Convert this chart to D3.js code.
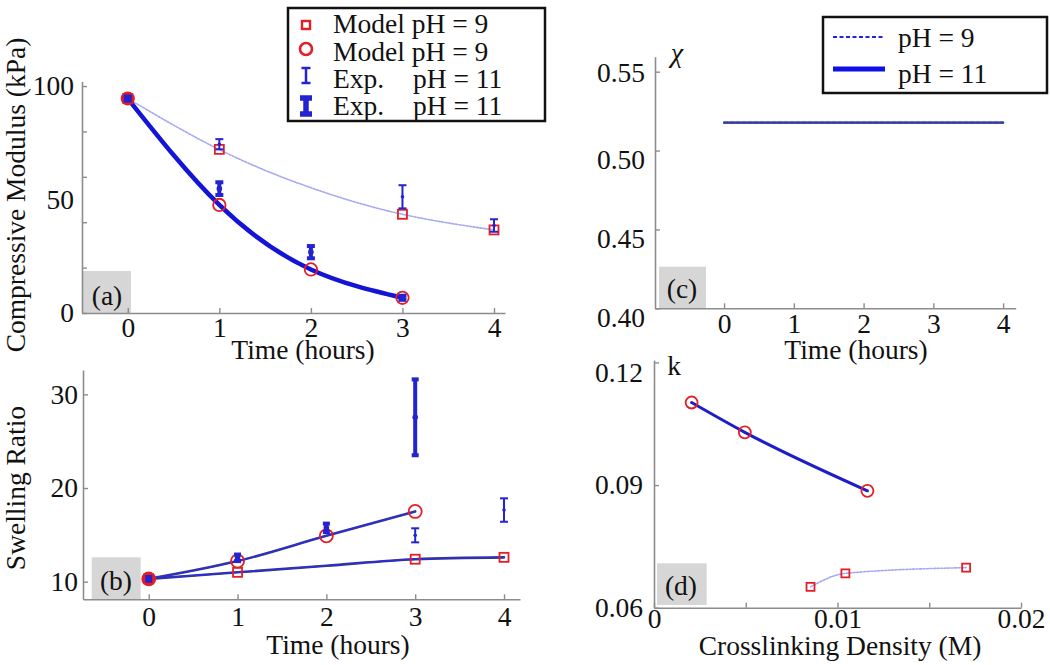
<!DOCTYPE html>
<html><head><meta charset="utf-8">
<script src="https://cdn.jsdelivr.net/npm/d3@7"></script>
<style>
body{margin:0;background:#fff}
svg{display:block}
</style></head><body>
<svg id="chart" width="1050" height="665"></svg>
<script>
// ---------------- DATA ----------------
// (a) Compressive modulus (kPa) vs time (hours)
const aCurveHours9 = [0, 1, 2, 3, 4];
const aCurve9 = [94.5, 72.0, 55.2, 43.5, 36.6];
const aCurveHours11 = [0, 1, 2, 3];
const aCurve11 = [94.5, 47.6, 19.2, 6.7];
const aModelHours9 = [0, 1, 3, 4];
const aModel9 = [94.5, 72.1, 43.5, 36.6];
const aModelHours11 = [0, 1, 2, 3];
const aModel11 = [94.5, 47.6, 19.2, 6.7];
const aExpThinHours = [0, 1, 3, 4];
const aExpThinLo = [93.6, 72.1, 46.1, 35.8];
const aExpThinHi = [95.4, 76.6, 56.3, 41.3];
const aExpThickHours = [0, 1, 2, 3];
const aExpThickLo = [93.6, 52.0, 24.1, 5.8];
const aExpThickHi = [95.4, 57.6, 29.5, 7.6];

// (b) Swelling ratio vs time (hours)
const bCurveHours9 = [0, 1, 2, 3, 4];
const bCurve9 = [10.3, 11.0, 11.7, 12.4, 12.6];
const bCurveHours11 = [0, 1, 2, 3];
const bCurve11 = [10.3, 12.2, 14.9, 17.5];
const bModelHours9 = [0, 1, 3, 4];
const bModel9 = [10.3, 11.0, 12.4, 12.6];
const bModelHours11 = [0, 1, 2, 3];
const bModel11 = [10.3, 12.2, 14.9, 17.5];
const bExpThinHours = [3, 4];
const bExpThinLo = [14.2, 16.4];
const bExpThinHi = [15.7, 18.9];
const bExpThickHours = [0, 1, 2, 3];
const bExpThickLo = [10.1, 12.2, 15.3, 23.5];
const bExpThickHi = [10.5, 12.9, 16.2, 31.6];

// (c) chi vs time (hours)
const cHours = [0, 4];
const cChi9 = [0.5177, 0.5177];
const cChi11 = [0.5177, 0.5177];

// (d) k vs crosslinking density (M)
const dDensity11 = [0.00205, 0.00495, 0.01163];
const dK11 = [0.1102, 0.1029, 0.0886];
const dDensity9 = [0.00853, 0.01043, 0.01701];
const dK9 = [0.0651, 0.0684, 0.0698];

// tick labels
const hourTicks = [0, 1, 2, 3, 4];
const aYTicks = [0, 20, 40, 60, 80, 100];
const aYLabels = [0, 50, 100];
const bYTicks = [10, 20, 30];
const cYTicks = [0.40, 0.45, 0.50, 0.55];
const dYTicks = [0.06, 0.09, 0.12];
const dXTicks = [0, 0.005, 0.01, 0.015, 0.02];
const dXLabels = {"0": "0", "0.01": "0.01", "0.02": "0.02"};

const legend1Labels = ["Model pH = 9", "Model pH = 9", "Exp.", "Exp."];
const legend1Right = ["", "", "pH = 11", "pH = 11"];
const legend2Labels = ["pH = 9", "pH = 11"];

// ---------------- FONT ----------------
function pickFont(cands) {
  const c = document.createElement("canvas").getContext("2d");
  const s = "Compressive Modulus (kPa) 0123456789";
  c.font = "40px monospace"; const wm = c.measureText(s).width;
  c.font = "40px sans-serif"; const ws = c.measureText(s).width;
  for (const f of cands) {
    c.font = `40px "${f}", monospace`; const w1 = c.measureText(s).width;
    c.font = `40px "${f}", sans-serif`; const w2 = c.measureText(s).width;
    if (w1 !== wm && w2 !== ws) return `"${f}"`;
  }
  return "serif";
}
const FONT = pickFont(["Liberation Serif", "Times New Roman", "Tinos", "Times", "Nimbus Roman", "DejaVu Serif", "Noto Serif"]);

// ---------------- STYLE ----------------
const RED = "#e41e26";
const BLUE_THICK = "#1414d6";
const BLUE_LIGHT = "#a3a9f2";
const BLUE_BAR = "#2323cf";
const AXIS = "#8c8c8c";
const FS = 27.5;

const svg = d3.select("#chart");

function txt(sel) { return sel.append("text").attr("font-family", FONT).attr("fill", "#111").attr("font-size", FS); }
function zip(xs, ys) { return xs.map((x, i) => ({x, y: ys[i]})); }

function panel(cfg) {
  const x = d3.scaleLinear().domain(cfg.xDomain).range(cfg.xRange);
  const y = d3.scaleLinear().domain(cfg.yDomain).range(cfg.yRange);
  const g = svg.append("g");

  g.append("rect").attr("x", cfg.tag.x).attr("y", cfg.tag.y)
    .attr("width", cfg.tag.w).attr("height", cfg.tag.h).attr("fill", "#d6d6d6");
  txt(g).attr("x", cfg.tag.tx).attr("y", cfg.tag.ty).attr("text-anchor", "middle").text(cfg.tag.label);

  const xa = g.append("g").attr("transform", `translate(0,${cfg.yRange[0]})`)
    .call(d3.axisBottom(x).tickValues(cfg.xTicks).tickSizeInner(-5).tickSizeOuter(0)
      .tickPadding(cfg.xPad).tickFormat(cfg.xFmt));
  const ya = g.append("g").attr("transform", `translate(${cfg.xRange[0]},0)`)
    .call(d3.axisLeft(y).tickValues(cfg.yTicks).tickSizeInner(-5).tickSizeOuter(0)
      .tickPadding(cfg.yPad).tickFormat(cfg.yLabelSep ? () => "" : cfg.yFmt));
  let yl = ya;
  if (cfg.yLabelSep) {
    yl = g.append("g").attr("transform", `translate(${cfg.xRange[0]},0)`)
      .call(d3.axisLeft(y).tickValues(cfg.yLabelSep).tickSize(0).tickPadding(cfg.yPad).tickFormat(cfg.yFmt));
    yl.select(".domain").remove();
  }
  [xa, ya].forEach(a => {
    a.select(".domain").attr("stroke", AXIS).attr("stroke-width", 1.6);
    a.selectAll(".tick line").attr("stroke", AXIS).attr("stroke-width", 1.4);
  });
  g.selectAll("g").attr("font-family", FONT).attr("font-size", FS);
  g.selectAll(".tick text").attr("fill", "#111");
  if (cfg.yShift) yl.selectAll(".tick text").attr("transform", d => `translate(0,${cfg.yShift(d)})`);

  txt(g).attr("x", cfg.xTitle.x).attr("y", cfg.xTitle.y).attr("text-anchor", "middle").text(cfg.xTitle.text);
  if (cfg.yTitle) {
    txt(g).attr("transform", `translate(${cfg.yTitle.x},${cfg.yTitle.y}) rotate(-90)`)
      .attr("text-anchor", "middle").text(cfg.yTitle.text);
  }
  return {g, x, y};
}

function drawLine(p, pts, style, curve) {
  p.g.append("path").datum(pts)
    .attr("d", d3.line().x(d => p.x(d.x)).y(d => p.y(d.y)).curve(curve || d3.curveNatural))
    .attr("fill", "none").attr("stroke", style.stroke).attr("stroke-width", style.width)
    .attr("stroke-dasharray", style.dash || null).attr("stroke-linecap", "round");
}
function drawSquares(p, pts, size) {
  p.g.selectAll(null).data(pts).enter().append("rect")
    .attr("x", d => p.x(d.x) - size / 2).attr("y", d => p.y(d.y) - size / 2)
    .attr("width", size).attr("height", size)
    .attr("fill", "none").attr("stroke", RED).attr("stroke-width", 1.8);
}
function drawCircles(p, pts, r) {
  p.g.selectAll(null).data(pts).enter().append("circle")
    .attr("cx", d => p.x(d.x)).attr("cy", d => p.y(d.y)).attr("r", r)
    .attr("fill", d => d.x === 0 ? RED : "none").attr("stroke", RED).attr("stroke-width", 1.8);
}
function drawBars(p, xs, lo, hi, w, cap) {
  const data = xs.map((x, i) => ({x, lo: lo[i], hi: hi[i]}));
  const sel = p.g.selectAll(null).data(data).enter().append("g");
  sel.append("line").attr("x1", d => p.x(d.x)).attr("x2", d => p.x(d.x))
    .attr("y1", d => p.y(d.lo)).attr("y2", d => p.y(d.hi))
    .attr("stroke", BLUE_BAR).attr("stroke-width", w);
  ["lo", "hi"].forEach(k => {
    sel.append("line").attr("x1", d => p.x(d.x) - cap / 2).attr("x2", d => p.x(d.x) + cap / 2)
      .attr("y1", d => p.y(d[k])).attr("y2", d => p.y(d[k]))
      .attr("stroke", BLUE_BAR).attr("stroke-width", w);
  });
  sel.append("circle").attr("cx", d => p.x(d.x)).attr("cy", d => p.y((d.lo + d.hi) / 2))
    .attr("r", w / 2 + 0.8).attr("fill", BLUE_BAR);
}

// ---------------- PANEL (a) ----------------
const A = panel({
  xDomain: [-0.5, 4.12], xRange: [82, 505], yDomain: [0, 102], yRange: [313, 81.5],
  xTicks: hourTicks, xFmt: d3.format("d"), xPad: 4,
  yTicks: aYTicks, yLabelSep: aYLabels, yFmt: d3.format("d"), yPad: 8,
  xTitle: {x: 303, y: 359, text: "Time (hours)"},
  yTitle: {x: 25, y: 195, text: "Compressive Modulus (kPa)"},
  tag: {x: 83, y: 271, w: 48, h: 42, tx: 107, ty: 305, label: "(a)"}
});
drawLine(A, zip(aCurveHours9, aCurve9), {stroke: BLUE_LIGHT, width: 1.6, dash: "2,1.5"});
drawLine(A, zip(aCurveHours11, aCurve11), {stroke: BLUE_THICK, width: 4.5});
drawSquares(A, zip(aModelHours9, aModel9), 9);
drawCircles(A, zip(aModelHours11, aModel11), 6.2);
drawBars(A, aExpThinHours, aExpThinLo, aExpThinHi, 2, 8);
drawBars(A, aExpThickHours, aExpThickLo, aExpThickHi, 4, 8);

// ---------------- PANEL (b) ----------------
const B = panel({
  xDomain: [-0.74, 4.18], xRange: [83, 520], yDomain: [8.12, 32.6], yRange: [599.3, 370],
  xTicks: hourTicks, xFmt: d3.format("d"), xPad: 7,
  yTicks: bYTicks, yFmt: d3.format("d"), yPad: 5,
  xTitle: {x: 338, y: 654, text: "Time (hours)"},
  yTitle: {x: 25, y: 488, text: "Swelling Ratio"},
  tag: {x: 91.7, y: 557.3, w: 49, h: 42, tx: 116, ty: 590, label: "(b)"}
});
drawLine(B, zip(bCurveHours9, bCurve9), {stroke: "#3a3a6a", width: 2.6}, d3.curveMonotoneX);
drawLine(B, zip(bCurveHours9, bCurve9), {stroke: "#2a2af0", width: 1.4}, d3.curveMonotoneX);
drawLine(B, zip(bCurveHours11, bCurve11), {stroke: "#3a3a6a", width: 2.6}, d3.curveMonotoneX);
drawLine(B, zip(bCurveHours11, bCurve11), {stroke: "#2a2af0", width: 1.4}, d3.curveMonotoneX);
drawSquares(B, zip(bModelHours9, bModel9), 9);
drawCircles(B, zip(bModelHours11, bModel11), 6.5);
drawBars(B, bExpThinHours, bExpThinLo, bExpThinHi, 2, 8);
drawBars(B, bExpThickHours, bExpThickLo, bExpThickHi, 4, 7);

// ---------------- PANEL (c) ----------------
const C = panel({
  xDomain: [-0.99, 4.18], xRange: [655, 1015.7], yDomain: [0.40, 0.5595], yRange: [308.3, 56.7],
  xTicks: hourTicks, xFmt: d3.format("d"), xPad: 5,
  yTicks: cYTicks, yFmt: d3.format(".2f"), yPad: 10,
  yShift: d => d > 0.54 ? 1.5 : 9,
  xTitle: {x: 856, y: 359, text: "Time (hours)"},
  tag: {x: 659, y: 266.7, w: 47, h: 41.6, tx: 682, ty: 298, label: "(c)"}
});
drawLine(C, zip(cHours, cChi11), {stroke: "#3c3ca2", width: 2.2}, d3.curveLinear);
drawLine(C, zip(cHours, cChi9), {stroke: "#3c3ca2", width: 2.2, dash: "4,2"}, d3.curveLinear);
txt(C.g).attr("x", 677).attr("y", 62).attr("text-anchor", "middle")
  .attr("font-size", 28).attr("font-style", "italic").text("χ");

// ---------------- PANEL (d) ----------------
const D = panel({
  xDomain: [0, 0.02], xRange: [654, 1021], yDomain: [0.06, 0.1206], yRange: [607.7, 360],
  xTicks: dXTicks, xFmt: d => dXLabels[String(d)] || "", xPad: 1,
  yTicks: dYTicks, yFmt: d3.format(".2f"), yPad: 11,
  yShift: d => d > 0.11 ? 10 : 0,
  xTitle: {x: 840, y: 655, text: "Crosslinking Density (M)"},
  tag: {x: 657, y: 563.3, w: 49.7, h: 41.7, tx: 681, ty: 595, label: "(d)"}
});
drawLine(D, zip(dDensity9, dK9), {stroke: BLUE_LIGHT, width: 1.6, dash: "2,1.5"}, d3.curveMonotoneX);
drawLine(D, zip(dDensity11, dK11), {stroke: "#1e1ec8", width: 3}, d3.curveMonotoneX);
drawSquares(D, zip(dDensity9, dK9), 8);
drawCircles(D, zip(dDensity11, dK11), 6);
txt(D.g).attr("x", 674).attr("y", 375).attr("text-anchor", "middle").text("k");

// ---------------- LEGEND 1 ----------------
const L1 = svg.append("g");
L1.append("rect").attr("x", 288).attr("y", 8).attr("width", 257).attr("height", 113)
  .attr("fill", "#fff").attr("stroke", "#111").attr("stroke-width", 2.5);
const l1Base = [33, 61, 88, 115];
legend1Labels.forEach((t, i) => {
  txt(L1).attr("x", 333).attr("y", l1Base[i]).text(t);
  if (legend1Right[i]) txt(L1).attr("x", 413).attr("y", l1Base[i]).text(legend1Right[i]);
});
const mx = 306;
L1.append("rect").attr("x", mx - 4).attr("y", 21).attr("width", 8).attr("height", 8)
  .attr("fill", "none").attr("stroke", RED).attr("stroke-width", 2.4);
L1.append("circle").attr("cx", mx).attr("cy", 49).attr("r", 6)
  .attr("fill", "none").attr("stroke", RED).attr("stroke-width", 2.6);
[[68, 83, 2.5, 9], [98, 114, 5.5, 12]].forEach(([y1, y2, w, cap]) => {
  L1.append("line").attr("x1", mx).attr("x2", mx).attr("y1", y1).attr("y2", y2).attr("stroke", BLUE_BAR).attr("stroke-width", w);
  L1.append("line").attr("x1", mx - cap / 2).attr("x2", mx + cap / 2).attr("y1", y1).attr("y2", y1).attr("stroke", BLUE_BAR).attr("stroke-width", w);
  L1.append("line").attr("x1", mx - cap / 2).attr("x2", mx + cap / 2).attr("y1", y2).attr("y2", y2).attr("stroke", BLUE_BAR).attr("stroke-width", w);
});

// ---------------- LEGEND 2 ----------------
const L2 = svg.append("g");
L2.append("rect").attr("x", 823).attr("y", 17).attr("width", 224).attr("height", 76)
  .attr("fill", "#fff").attr("stroke", "#111").attr("stroke-width", 2.5);
const l2Y = [37, 69];
L2.append("line").attr("x1", 833).attr("x2", 885).attr("y1", l2Y[0]).attr("y2", l2Y[0])
  .attr("stroke", "#2424d0").attr("stroke-width", 2).attr("stroke-dasharray", "4,2.5");
L2.append("line").attr("x1", 833).attr("x2", 885).attr("y1", l2Y[1]).attr("y2", l2Y[1])
  .attr("stroke", "#0e0ee6").attr("stroke-width", 5);
legend2Labels.forEach((t, i) => {
  txt(L2).attr("x", 898).attr("y", l2Y[i] + 10 + i * 4).text(t);
});
</script>
</body></html>
